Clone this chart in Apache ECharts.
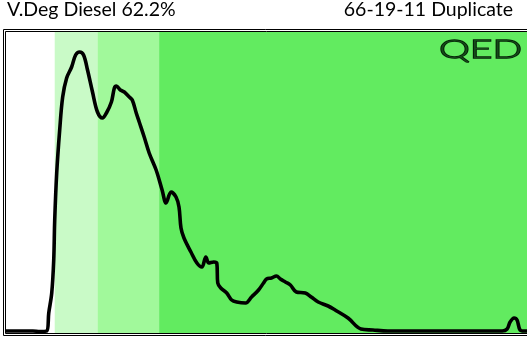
<!DOCTYPE html>
<html>
<head>
<meta charset="utf-8">
<script src="https://cdn.jsdelivr.net/npm/echarts@6/dist/echarts.min.js"></script>
<style>
  html, body { margin: 0; padding: 0; background: #fff; }
  #chart { width: 527px; height: 341px; }
</style>
</head>
<body>
<div id="chart"></div>
<script>
// Chromatogram trace: x position (arbitrary units) and detector response
const traceX = [0, 27, 34, 41, 43, 46, 48, 49, 51, 54, 57, 61, 66, 70, 74, 78, 82, 87, 92, 97, 101, 106, 109, 111, 115, 119, 124, 127, 131, 134, 139, 144, 151, 157, 161, 166, 171, 174, 176, 179, 186, 192, 197, 201, 204, 209, 212, 213, 216, 222, 227, 232, 241, 247, 254, 259, 262, 267, 272, 276, 281, 286, 292, 301, 307, 314, 324, 331, 344, 357, 369, 384, 414, 464, 499, 504, 507, 511, 514, 517, 521, 524];
const traceY = [2, 2, 1.5, 2, 20, 40, 73, 113, 160, 203, 236, 255, 266, 278, 281, 278, 263, 241, 221, 215, 220, 231, 245, 247, 243, 241, 236, 233, 220, 211, 196, 180, 163, 143, 130, 141, 136, 126, 105, 95, 81, 70, 66, 76, 70, 71, 70, 50, 45, 40, 33, 31, 30, 36, 43, 50, 54, 55, 57, 54, 51, 48, 41, 40, 36, 31, 27, 23, 15, 4, 3, 2, 2, 2, 2, 4, 11, 15, 13, 3, 2, 2];

// Boiling-range bands: [start, end, colour]
const bandStarts = [49, 92, 154];
const bandEnds = [92, 154, 524];
const bandColors = ['#c9fac7', '#a1f99b', '#62eb60'];

const titleLeft = 'V.Deg Diesel 62.2%';
const titleRight = '66-19-11 Duplicate';
const logoText = 'QED';

const points = traceX.map((x, i) => [x, traceY[i]]);
const bands = bandStarts.map((s, i) => [
  { xAxis: s, itemStyle: { color: bandColors[i] } },
  { xAxis: bandEnds[i] }
]);

const chart = echarts.init(document.getElementById('chart'), null, { renderer: 'canvas' });
chart.setOption({
  animation: false,
  backgroundColor: '#ffffff',
  grid: { left: 6, top: 32, width: 524, height: 301 },
  xAxis: {
    type: 'value', min: 0, max: 524,
    axisLine: { show: false }, axisTick: { show: false },
    axisLabel: { show: false }, splitLine: { show: false }
  },
  yAxis: {
    type: 'value', min: 0, max: 301,
    axisLine: { show: false }, axisTick: { show: false },
    axisLabel: { show: false }, splitLine: { show: false }
  },
  series: [{
    type: 'line',
    data: points,
    smooth: 0.35,
    symbol: 'none',
    lineStyle: { color: '#000', width: 3.6 },
    markArea: { silent: true, itemStyle: { opacity: 1 }, data: bands },
    z: 3
  }],
  graphic: [
    { type: 'text', left: 7, top: 0, style: { text: titleLeft, font: '19.5px Lato', fill: '#000' } },
    { type: 'text', right: 14, top: 0, style: { text: titleRight, font: '19.5px Lato', fill: '#000' } },
    { type: 'text', x: 439, y: 37, scaleX: 1.5, style: { text: logoText, font: '300 26px Lato', fill: '#154a19', stroke: '#031a05', lineWidth: 1.3 }, z: 10 },
    { type: 'rect', shape: { x: 3.5, y: 29.5, width: 540, height: 306 }, style: { fill: null, stroke: '#000', lineWidth: 1 }, z: 20 },
    { type: 'rect', shape: { x: 5.5, y: 31.5, width: 540, height: 302 }, style: { fill: null, stroke: '#000', lineWidth: 1 }, z: 20 }
  ]
});
</script>
</body>
</html>
